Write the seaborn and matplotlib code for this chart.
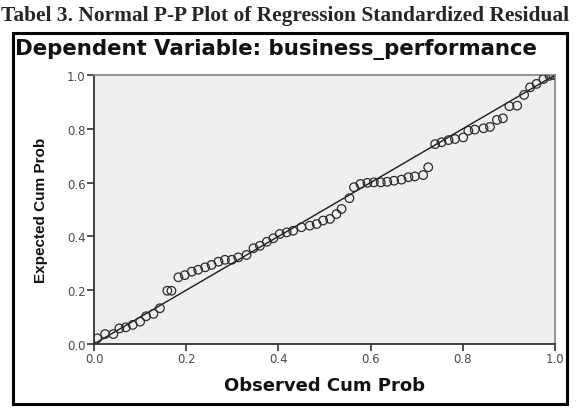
import matplotlib
matplotlib.use("Agg")
import matplotlib.pyplot as plt
import matplotlib.patches as mpatches
import pandas as pd
import seaborn as sns

# observed / expected cumulative probabilities
observed = [
    0.007, 0.024, 0.042, 0.055, 0.069, 0.084, 0.100, 0.113, 0.129, 0.143,
    0.159, 0.168,
    0.183, 0.197, 0.212, 0.226, 0.241, 0.255, 0.270, 0.284, 0.299, 0.313,
    0.331, 0.346, 0.360, 0.375, 0.389, 0.403, 0.418,
    0.432, 0.450, 0.468, 0.483, 0.497, 0.512, 0.526, 0.537,
    0.554, 0.564, 0.578,
    0.593, 0.607, 0.622, 0.636, 0.651, 0.667, 0.682, 0.696, 0.714,
    0.725,
    0.740, 0.754, 0.769, 0.783, 0.801, 0.812, 0.826, 0.845, 0.859,
    0.874, 0.887, 0.901, 0.918, 0.933, 0.946, 0.960, 0.975, 0.988, 0.996,
]
expected = [
    0.021, 0.037, 0.037, 0.058, 0.062, 0.071, 0.083, 0.103, 0.112, 0.133,
    0.198, 0.198,
    0.248, 0.256, 0.269, 0.276, 0.285, 0.294, 0.306, 0.313, 0.313, 0.322,
    0.331, 0.356, 0.365, 0.380, 0.393, 0.409, 0.415,
    0.421, 0.434, 0.440, 0.446, 0.459, 0.465, 0.483, 0.502,
    0.542, 0.583, 0.595,
    0.599, 0.601, 0.601, 0.603, 0.607, 0.611, 0.620, 0.623, 0.628,
    0.657,
    0.743, 0.750, 0.758, 0.762, 0.768, 0.793, 0.797, 0.802, 0.807,
    0.833, 0.839, 0.884, 0.886, 0.926, 0.954, 0.967, 0.985, 0.997, 1.000,
]
ticks = [0.0, 0.2, 0.4, 0.6, 0.8, 1.0]
tick_labels = ["0.0", "0.2", "0.4", "0.6", "0.8", "1.0"]

df = pd.DataFrame({"observed": observed, "expected": expected})

sns.set_style("white")
plt.rcParams["font.family"] = ["DejaVu Sans"]

W, H = 583, 414
fig = plt.figure(figsize=(W / 100, H / 100), dpi=100)
ax = fig.add_axes([94 / W, 1 - 345 / H, (555 - 94) / W, (345 - 76) / H])
ax.set_facecolor("#efefef")

sns.scatterplot(data=df, x="observed", y="expected", ax=ax, marker="o",
                s=38, zorder=3)
pts = ax.collections[0]
pts.set_facecolor("none")
pts.set_edgecolor("#2b2b2b")
pts.set_linewidth(0.9)

ax.axline((0, 0), slope=1, color="#1a1a1a", lw=1.0, zorder=2)

ax.set_xlim(0, 1)
ax.set_ylim(0, 1)
ax.set_xticks(ticks)
ax.set_xticklabels(tick_labels)
ax.set_yticks(ticks)
ax.set_yticklabels(tick_labels)
ax.tick_params(axis="both", direction="out", length=5, width=1.2,
               color="#333333", labelsize=8.5, labelcolor="#4a4a4a", pad=1)
ax.tick_params(axis="x", bottom=True)
ax.tick_params(axis="y", left=True)

for side in ["left", "bottom"]:
    ax.spines[side].set_color("#333333")
    ax.spines[side].set_linewidth(1.3)
for side in ["top", "right"]:
    ax.spines[side].set_color("#8a8a8a")
    ax.spines[side].set_linewidth(1.3)

ax.set_xlabel("Observed Cum Prob", fontsize=13, fontweight="bold",
              color="#111111", labelpad=8)
ax.set_ylabel("Expected Cum Prob", fontsize=11, fontweight="bold",
              family=["Liberation Sans", "DejaVu Sans"],
              color="#111111", labelpad=14)

# outer frame of the SPSS output and the cropped area beyond it
fig.patches.append(mpatches.Rectangle((569 / W, 0), 1, 1, transform=fig.transFigure,
                                      facecolor="white", edgecolor="none", zorder=5))
fig.patches.append(mpatches.Rectangle((13 / W, 1 - 405 / H), (567 - 13) / W,
                                      (405 - 34) / H, transform=fig.transFigure,
                                      fill=False, edgecolor="black", lw=2.2, zorder=6))

fig.text(15 / W, 1 - 49 / H, "Dependent Variable: business_performance",
         fontsize=15.3, fontweight="bold", color="#111111", va="center", ha="left")
fig.text(1 / W, 1 - 16 / H,
         "Tabel 3. Normal P-P Plot of Regression Standardized Residual",
         fontsize=15.4, fontweight="bold", family="Liberation Serif",
         va="center", ha="left", zorder=7)

fig.savefig("out.png", dpi=100)
